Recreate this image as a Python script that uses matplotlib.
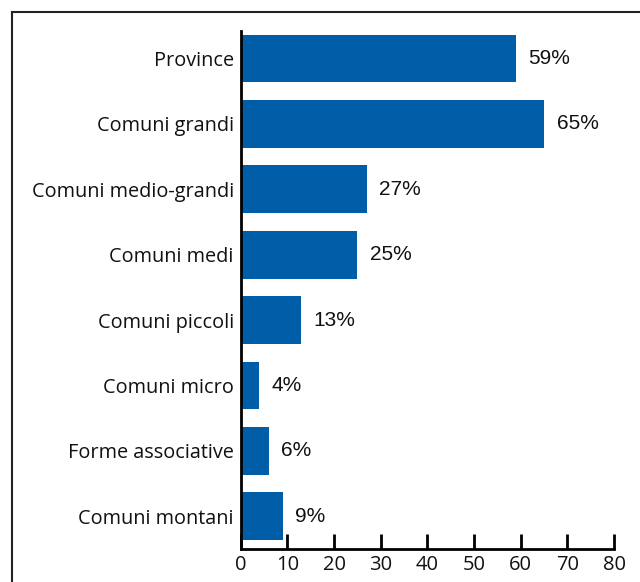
import matplotlib
matplotlib.use("Agg")
import matplotlib.pyplot as plt
from matplotlib.lines import Line2D
from matplotlib import font_manager

categories = [
    "Province",
    "Comuni grandi",
    "Comuni medio-grandi",
    "Comuni medi",
    "Comuni piccoli",
    "Comuni micro",
    "Forme associative",
    "Comuni montani",
]
values = [59, 65, 27, 25, 13, 4, 6, 9]
x_ticks = [0, 10, 20, 30, 40, 50, 60, 70, 80]

names = {f.name for f in font_manager.fontManager.ttflist}
narrow = "Liberation Sans Narrow" if "Liberation Sans Narrow" in names else "Liberation Sans"
label_font = ["Open Sans", "DejaVu Sans"]

W, H = 640, 582
fig = plt.figure(figsize=(W / 100, H / 100), dpi=100)
ax = fig.add_axes([240.7 / W, (H - 549) / H, (614 - 240.7) / W, (549 - 31) / H])

color = "#005ea8"
ypos = list(range(len(categories)))
ax.barh(ypos, values, height=0.73, color=color, zorder=2)

for y, v in zip(ypos, values):
    ax.annotate(f"{v}%", (v, y), xytext=(9, 0), textcoords="offset points",
                va="center", ha="left", fontsize=15, family=narrow, color="#111111")

ax.set_xlim(0, 80)
ax.set_ylim(7.5, -0.42)
ax.set_yticks(ypos)
ax.set_yticklabels(categories, fontsize=14.3, family=label_font, color="#111111")
ax.set_xticks(x_ticks)
ax.set_xticklabels([str(t) for t in x_ticks], fontsize=14.5, family=label_font, color="#111111")

ax.tick_params(axis="y", length=0, pad=5)
ax.tick_params(axis="x", direction="in", length=11, width=2, pad=4)
for s in ("top", "right"):
    ax.spines[s].set_visible(False)
ax.spines["left"].set_linewidth(2)
ax.spines["bottom"].set_linewidth(2)

# outer frame: left and top edges
fig.add_artist(Line2D([11.5 / W, 11.5 / W], [0, 1 - 11.5 / H], transform=fig.transFigure,
                      color="#222222", lw=1.5))
fig.add_artist(Line2D([11.5 / W, 1], [1 - 11.5 / H, 1 - 11.5 / H], transform=fig.transFigure,
                      color="#222222", lw=1.5))

fig.savefig("out.png", dpi=100)
